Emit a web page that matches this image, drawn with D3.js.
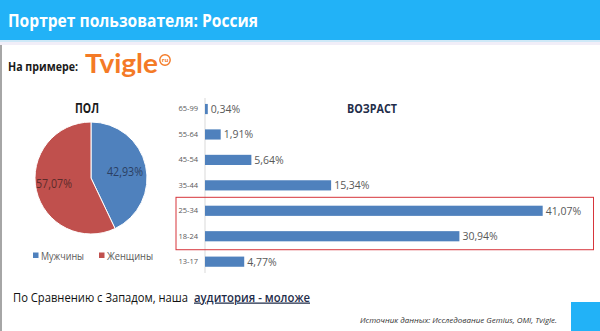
<!DOCTYPE html>
<html><head><meta charset="utf-8">
<script src="https://cdn.jsdelivr.net/npm/d3@7"></script>
<style>html,body{margin:0;padding:0;background:#fff;overflow:hidden}</style>
</head><body>
<svg id="c" width="600" height="331"></svg>
<script>
// ---- data ----
const genderLabels = ["Мужчины", "Женщины"];
const genderValues = [42.93, 57.07];
const ageGroups = ["65-99", "55-64", "45-54", "35-44", "25-34", "18-24", "13-17"];
const ageValues = [0.34, 1.91, 5.64, 15.34, 41.07, 30.94, 4.77];
const highlighted = ["25-34", "18-24"];

const FONT = "'Open Sans', 'Noto Sans', sans-serif";
const ru = d3.formatLocale({decimal: ",", thousands: " ", grouping: [3], currency: ["", ""]});
const pct = v => ru.format(".2f")(v) + "%";

const svg = d3.select("#c");

function fit(sel, w) {
  sel.attr("textLength", w).attr("lengthAdjust", "spacingAndGlyphs");
  return sel;
}

// ---- header ----
svg.append("rect").attr("x", 0).attr("y", 0).attr("width", 600).attr("height", 40).attr("fill", "#22b2f7");
svg.append("rect").attr("x", 0).attr("y", 40).attr("width", 600).attr("height", 2).attr("fill", "#cfe9f7");
svg.append("rect").attr("x", 0).attr("y", 42).attr("width", 600).attr("height", 3).attr("fill", "#f1eef8");
fit(svg.append("text").attr("x", 8).attr("y", 26.5).attr("fill", "#fff").attr("font-family", FONT)
  .attr("font-weight", 700).attr("font-size", 18.5).text("Портрет пользователя: Россия"), 250);

// left frame line
svg.append("rect").attr("x", 0).attr("y", 45).attr("width", 2).attr("height", 286).attr("fill", "#a6a6a6");

// ---- "На примере:" + logo ----
fit(svg.append("text").attr("x", 8).attr("y", 71).attr("fill", "#1a1a1a").attr("font-family", FONT)
  .attr("font-weight", 700).attr("font-size", 12.5).text("На примере:"), 70);
const logo = svg.append("g");
fit(logo.append("text").attr("x", 85).attr("y", 73).attr("fill", "#f47a26")
  .attr("font-family", "'Lato', 'Open Sans', sans-serif").attr("font-weight", 700).attr("font-size", 27)
  .text("Tvigle"), 73);
logo.append("circle").attr("cx", 165).attr("cy", 60).attr("r", 5.2).attr("fill", "none")
  .attr("stroke", "#f47a26").attr("stroke-width", 1.4);
logo.append("text").attr("x", 165).attr("y", 62.3).attr("text-anchor", "middle").attr("fill", "#f47a26")
  .attr("font-family", FONT).attr("font-weight", 700).attr("font-size", 6).text("ru");

// ---- pie ----
const color = d3.scaleOrdinal().domain(genderLabels).range(["#4f81bd", "#c0504d"]);
const pieData = d3.pie().sort(null).value(d => d.v)(genderLabels.map((k, i) => ({k, v: genderValues[i]})));
const R = 56;
const arc = d3.arc().innerRadius(0).outerRadius(R);
const pg = svg.append("g").attr("transform", "translate(91,178)");
pg.selectAll("path").data(pieData).join("path").attr("d", arc)
  .attr("fill", d => color(d.data.k)).attr("stroke", "#fff").attr("stroke-width", 1);
const labelPos = [[34, -7], [-37, 5]];
pg.selectAll("text.pl").data(pieData).join("text").attr("class", "pl")
  .attr("x", (d, i) => labelPos[i][0] - 18).attr("y", (d, i) => labelPos[i][1] + 4.5)
  .attr("textLength", 36).attr("lengthAdjust", "spacingAndGlyphs")
  .attr("font-family", FONT).attr("font-size", 12.5)
  .attr("fill", (d, i) => i === 0 ? "#2b3f63" : "#5c2b2a").text(d => pct(d.data.v));

fit(svg.append("text").attr("x", 75).attr("y", 113).attr("fill", "#1a1a1a").attr("font-family", FONT)
  .attr("font-weight", 700).attr("font-size", 14).text("ПОЛ"), 24);

// legend
const leg = svg.append("g");
const legX = [33, 99];
genderLabels.forEach((k, i) => {
  leg.append("rect").attr("x", legX[i]).attr("y", 252.5).attr("width", 5.5).attr("height", 5.5).attr("fill", color(k));
  fit(leg.append("text").attr("x", legX[i] + 8).attr("y", 259.5).attr("fill", "#595959").attr("font-family", FONT)
    .attr("font-size", 10.5).text(k), i === 0 ? 43 : 46);
});

// ---- bar chart ----
const x = d3.scaleLinear().domain([0, 45]).range([205, 575]);
const y = d3.scaleBand().domain(ageGroups).range([96.3, 274.4]).paddingInner(0.6).paddingOuter(0.3);

svg.append("line").attr("x1", 205).attr("x2", 205).attr("y1", 98).attr("y2", 273)
  .attr("stroke", "#d9d9d9").attr("stroke-width", 1);

const yAxis = svg.append("g").attr("transform", "translate(205,0)")
  .call(d3.axisLeft(y).tickSize(0).tickPadding(7));
yAxis.select(".domain").remove();
yAxis.selectAll("text").attr("font-family", FONT).attr("font-size", 7.5).attr("fill", "#595959");

const bars = ageGroups.map((g, i) => ({g, v: ageValues[i]}));
svg.append("g").selectAll("rect").data(bars).join("rect")
  .attr("x", x(0)).attr("y", d => y(d.g)).attr("width", d => x(d.v) - x(0))
  .attr("height", y.bandwidth()).attr("fill", "#4f81bd");
svg.append("g").selectAll("text").data(bars).join("text")
  .attr("x", d => x(d.v) + 3).attr("y", d => y(d.g) + y.bandwidth() / 2 + 4)
  .attr("font-family", FONT).attr("font-size", 10.5).attr("fill", "#595959").text(d => pct(d.v));

fit(svg.append("text").attr("x", 347).attr("y", 113).attr("fill", "#1f2d4a").attr("font-family", FONT)
  .attr("font-weight", 700).attr("font-size", 13).text("ВОЗРАСТ"), 50);

// highlight box
const hy0 = y(highlighted[0]) - y.step() * 0.33;
const hy1 = y(highlighted[1]) + y.bandwidth() + y.step() * 0.33;
svg.append("rect").attr("x", 176).attr("y", hy0).attr("width", 417.5).attr("height", hy1 - hy0)
  .attr("fill", "none").attr("stroke", "#d7353b").attr("stroke-width", 1);

// ---- bottom text ----
fit(svg.append("text").attr("x", 13).attr("y", 301.5).attr("font-family", FONT).attr("font-size", 11.8)
  .attr("fill", "#111").text("По Сравнению с Западом, наша"), 175);
fit(svg.append("text").attr("x", 194).attr("y", 301.5).attr("font-family", FONT).attr("font-size", 12.5)
  .attr("fill", "#1f2d4a").attr("text-decoration", "underline").attr("font-weight", 600)
  .text("аудитория - моложе"), 116);

fit(svg.append("text").attr("x", 360).attr("y", 323).attr("font-family", FONT).attr("font-style", "italic")
  .attr("font-size", 7.5).attr("fill", "#333").text("Источник данных: Исследование Gemius, OMI, Tvigle."), 197);

svg.append("rect").attr("x", 571).attr("y", 302).attr("width", 29).attr("height", 29).attr("fill", "#22b2f7");
</script>
</body></html>
